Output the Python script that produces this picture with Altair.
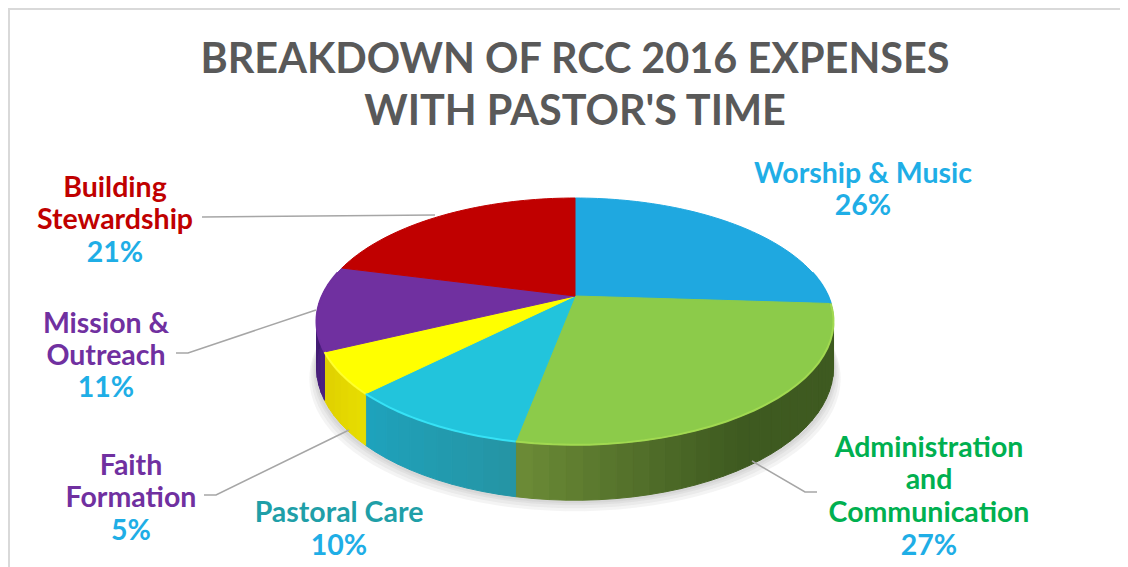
import numpy as np
import pandas as pd
import altair as alt

# ---- data
categories = ["Worship & Music", "Administration and Communication", "Pastoral Care",
              "Faith Formation", "Mission & Outreach", "Building Stewardship"]
shares = [26, 27, 9.5, 5.4, 11.1, 21]
top_colors = ["#1FA8E0", "#8CCB4A", "#22C4DC", "#FFFF00", "#7030A0", "#C00000"]
wall_start = ["#155F85", "#3E5A20", "#2595A5", "#E6DC00", "#4B2080", "#7A0000"]
wall_end = ["#155F85", "#6B8A36", "#1EA2BC", "#E0D000", "#3C1868", "#7A0000"]
rim_colors = ["#1FA8E0", "#A4DC52", "#38E6F8", "#FFFF30", "#7030A0", "#C00000"]

label_lines = ["Building", "Stewardship", "21%", "Worship & Music", "26%",
               "Administration", "and", "Communication", "27%",
               "Pastoral Care", "10%", "Faith", "Formation", "5%",
               "Mission &", "Outreach", "11%"]
label_x = [115, 115, 115, 863, 863, 929, 929, 929, 929, 339, 339, 131, 131, 131, 106, 106, 106]
label_y = [188, 220, 253, 174, 206, 448, 480, 513, 546, 513, 546, 466, 498, 531, 324, 356, 388]
label_colors = ["#C00000", "#C00000", "#1FAEE6", "#1FAEE6", "#1FAEE6",
                "#00B050", "#00B050", "#00B050", "#1FAEE6", "#1F9FA8", "#1FAEE6",
                "#7030A0", "#7030A0", "#1FAEE6", "#7030A0", "#7030A0", "#1FAEE6"]

leader_ids = ["b", "b", "m", "m", "m", "f", "f", "f", "a", "a", "a"]
leader_x = [202, 435, 176, 188, 316, 204, 216, 349, 752, 805, 817]
leader_y = [217, 215, 353, 353, 310, 495, 495, 430, 461, 492, 492]

frame_x = [9, 9, 1120]
frame_y = [567, 9, 9]

# ---- perspective view of the disc
CX, CY, D, A, C, H = 575.0, 296.0, 253.0, 57.2, -0.206, 44.0


def project(theta_deg, z=0.0, dx=0.0, dy=0.0):
    t = np.radians(theta_deg)
    X, Y = np.sin(t), -np.cos(t)
    w = 1 + C * Y
    return CX + D * X / w + dx, (A * Y + CY) / w + H * z / w + dy


def mix(c1, c2, f):
    a = [int(c1[i:i + 2], 16) for i in (1, 3, 5)]
    b = [int(c2[i:i + 2], 16) for i in (1, 3, 5)]
    return "#%02X%02X%02X" % tuple(round(p + (q - p) * f) for p, q in zip(a, b))


edges = np.concatenate([[0], np.cumsum(shares)]) * 3.6

top_rows, wall_rows, rim_rows = [], [], []
for k, cat in enumerate(categories):
    a0, a1 = edges[k], edges[k + 1]
    ths = np.linspace(a0, a1, max(int((a1 - a0) / 1.5), 3))
    x, y = project(ths)
    pts = [(CX, CY)] + list(zip(x, y)) + [(CX, CY)]
    for i, (px, py) in enumerate(pts):
        top_rows.append(dict(s=cat, i=i, x=px, y=py, c=top_colors[k]))
    # wall quads, front part only
    v0, v1 = max(a0, 78.0), min(a1, 282.0)
    if v1 > v0:
        tw = np.linspace(v0, v1, max(int((v1 - v0) / 3), 2) + 1)
        for j in range(len(tw) - 1):
            f = j / max(len(tw) - 2, 1)
            if k == 1:
                f = max(0, (f - 0.55) / 0.45) ** 1.2
            col = mix(wall_start[k], wall_end[k], f)
            quad = [(tw[j], 0), (tw[j + 1], 0), (tw[j + 1], 1), (tw[j], 1), (tw[j], 0)]
            for i, (th, z) in enumerate(quad):
                qx, qy = project(th, z)
                wall_rows.append(dict(s=f"{k:02d}-{j:03d}", i=i, x=qx, y=qy, c=col))
        tr = np.linspace(v0, v1, 30)
        rx, ry = project(tr)
        for i, (px, py) in enumerate(zip(rx, ry)):
            rim_rows.append(dict(s=cat, i=i, x=px, y=py, c=rim_colors[k]))

shadow_rows = []
for n, grow in enumerate([11, 8, 5, 3]):
    ths = np.linspace(60, 300, 80)
    sx, sy = project(ths, 1.0, 0.0, grow)
    sx = CX + (sx - CX) * (1 + grow / 400)
    pts = list(zip(sx, sy))
    for i, (px, py) in enumerate(pts + pts[:1]):
        shadow_rows.append(dict(s=f"s{n}", i=i, x=px, y=py, c="#808080"))

x_scale = alt.Scale(domain=[8, 1120])
y_scale = alt.Scale(domain=[567, 135])
X_ = alt.X("x:Q", scale=x_scale, axis=None)
Y_ = alt.Y("y:Q", scale=y_scale, axis=None)


def filled(rows, **mark):
    return alt.Chart(pd.DataFrame(rows)).mark_line(strokeWidth=mark.pop("strokeWidth", 1), interpolate="linear", **mark).encode(
        x=X_, y=Y_,
        detail="s:N",
        order="i:Q",
        stroke=alt.Stroke("c:N", scale=None, legend=None),
        fill=alt.Fill("c:N", scale=None, legend=None),
    )


frame = alt.Chart(pd.DataFrame({"x": frame_x, "y": frame_y})).mark_line(
    color="#D9D9D9", strokeWidth=2).encode(x=X_, y=Y_, order=alt.Order("i:Q")).transform_window(i="row_number()")

shadow = filled(shadow_rows, opacity=0.09, strokeWidth=0)
walls = filled(wall_rows)
tops = filled(top_rows)
rim = alt.Chart(pd.DataFrame(rim_rows)).mark_line(strokeWidth=2, opacity=0.9).encode(
    x=X_, y=Y_, detail="s:N", order="i:Q", stroke=alt.Stroke("c:N", scale=None, legend=None))

leaders = alt.Chart(pd.DataFrame({"id": leader_ids, "x": leader_x, "y": leader_y})).mark_line(
    color="#A6A6A6", strokeWidth=1.5).encode(x=X_, y=Y_, detail="id:N")

labels = alt.Chart(pd.DataFrame({"t": label_lines, "x": label_x, "y": label_y, "c": label_colors})).mark_text(
    font="Lato", fontWeight="bold", fontSize=28.5, align="center", baseline="middle"
).encode(x=X_, y=Y_, text="t:N", color=alt.Color("c:N", scale=None, legend=None))

chart = alt.layer(frame, shadow, walls, tops, rim, leaders, labels).properties(
    width=1112, height=432,
    title=alt.TitleParams(
        text=["BREAKDOWN OF RCC 2016 EXPENSES", "WITH PASTOR'S TIME"],
        font="Lato", fontWeight="bold", fontSize=41.4, color="#595959",
        lineHeight=52, anchor="middle", frame="group", dx=11, dy=170, offset=0, baseline="bottom",
    ),
    autosize=alt.AutoSizeParams(type="none"),
    padding={"left": 0, "right": 0, "top": 127, "bottom": 0},
    background="white",
).configure_view(stroke=None)

chart.save("out.html", embed_options={"renderer": "svg", "actions": False})
